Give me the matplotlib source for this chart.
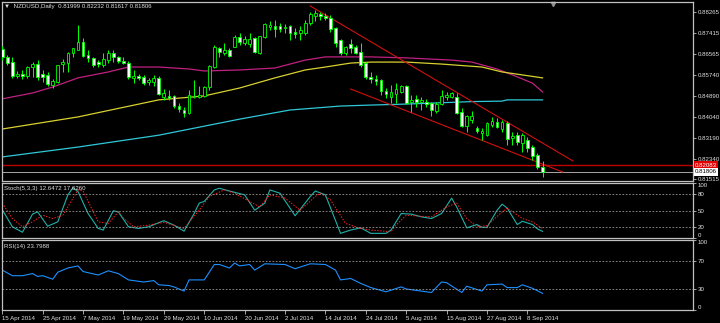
import matplotlib
matplotlib.use("Agg")
import matplotlib.pyplot as plt
import matplotlib.transforms as mtransforms
from matplotlib.patches import Rectangle

plt.rcParams["font.family"] = ["Liberation Sans", "DejaVu Sans"]

# ---- data ----
opens = [0.8678, 0.8646, 0.8625, 0.8569, 0.8577, 0.8569, 0.8605, 0.8617, 0.8577, 0.8573,
         0.8532, 0.8544, 0.8617, 0.8621, 0.8662, 0.8674, 0.8706, 0.8654, 0.8642, 0.8625,
         0.8613, 0.8633, 0.8662, 0.8646, 0.8629, 0.8621, 0.8561, 0.8569, 0.8565, 0.8544,
         0.8544, 0.8561, 0.8484, 0.8488, 0.8488, 0.8447, 0.8431, 0.8419, 0.8484, 0.8484,
         0.8488, 0.8524, 0.8605, 0.8682, 0.8662, 0.8674, 0.8686, 0.8727, 0.8702, 0.8698,
         0.8722, 0.8662, 0.8727, 0.8767, 0.8771, 0.8771, 0.8763, 0.8771, 0.8747, 0.8743,
         0.8743, 0.8783, 0.8812, 0.8820, 0.8812, 0.8803, 0.8763, 0.8714, 0.8662, 0.8698,
         0.8686, 0.8666, 0.8621, 0.8565, 0.8556, 0.8552, 0.8508, 0.8484, 0.8496, 0.8504,
         0.8528, 0.8463, 0.8476, 0.8463, 0.8463, 0.8459, 0.8427, 0.8455, 0.8484, 0.8484,
         0.8484, 0.8423, 0.8366, 0.8390, 0.8358, 0.8338, 0.8329, 0.8370, 0.8382, 0.8354,
         0.8378, 0.8317, 0.8329, 0.8297, 0.8309, 0.8281, 0.8248, 0.81999]
highs = [0.8690, 0.8654, 0.8646, 0.8589, 0.8593, 0.8609, 0.8625, 0.8633, 0.8593, 0.8585,
         0.8556, 0.8613, 0.8638, 0.8666, 0.8682, 0.8775, 0.8722, 0.8674, 0.8646, 0.8633,
         0.8662, 0.8674, 0.8674, 0.8650, 0.8646, 0.8629, 0.8593, 0.8577, 0.8573, 0.8561,
         0.8573, 0.8569, 0.8516, 0.8512, 0.8492, 0.8459, 0.8443, 0.8512, 0.8552, 0.8528,
         0.8528, 0.8613, 0.8694, 0.8686, 0.8702, 0.8682, 0.8735, 0.8743, 0.8731, 0.8743,
         0.8727, 0.8731, 0.8783, 0.8791, 0.8795, 0.8783, 0.8779, 0.8775, 0.8763, 0.8771,
         0.8795, 0.8828, 0.8836, 0.8828, 0.8824, 0.8816, 0.8767, 0.8718, 0.8690, 0.8718,
         0.8694, 0.8702, 0.8625, 0.8585, 0.8573, 0.8556, 0.8520, 0.8532, 0.8540, 0.8532,
         0.8532, 0.8492, 0.8492, 0.8484, 0.8476, 0.8463, 0.8463, 0.8512, 0.8504, 0.8504,
         0.8500, 0.8439, 0.8411, 0.8427, 0.8366, 0.8358, 0.8382, 0.8403, 0.8398, 0.8390,
         0.8386, 0.8342, 0.8342, 0.8338, 0.8321, 0.8289, 0.8256, 0.82232]
lows = [0.8633, 0.8613, 0.8561, 0.8561, 0.8556, 0.8561, 0.8565, 0.8552, 0.8544, 0.8528,
        0.8520, 0.8540, 0.8585, 0.8585, 0.8646, 0.8674, 0.8646, 0.8625, 0.8605, 0.8605,
        0.8605, 0.8621, 0.8625, 0.8621, 0.8617, 0.8556, 0.8540, 0.8552, 0.8532, 0.8532,
        0.8528, 0.8492, 0.8472, 0.8472, 0.8439, 0.8423, 0.8403, 0.8415, 0.8480, 0.8480,
        0.8484, 0.8512, 0.8601, 0.8646, 0.8654, 0.8646, 0.8686, 0.8694, 0.8694, 0.8686,
        0.8662, 0.8658, 0.8722, 0.8755, 0.8727, 0.8747, 0.8743, 0.8714, 0.8722, 0.8714,
        0.8735, 0.8775, 0.8791, 0.8795, 0.8795, 0.8747, 0.8686, 0.8654, 0.8654, 0.8662,
        0.8658, 0.8605, 0.8556, 0.8540, 0.8532, 0.8492, 0.8480, 0.8459, 0.8459, 0.8500,
        0.8455, 0.8423, 0.8443, 0.8431, 0.8443, 0.8407, 0.8419, 0.8451, 0.8472, 0.8480,
        0.8415, 0.8362, 0.8342, 0.8378, 0.8338, 0.8309, 0.8325, 0.8362, 0.8358, 0.8342,
        0.8289, 0.8289, 0.8289, 0.8260, 0.8260, 0.8228, 0.8191, 0.81617]
closes = [0.8646, 0.8621, 0.8569, 0.8577, 0.8569, 0.8605, 0.8617, 0.8565, 0.8565, 0.8536,
          0.8548, 0.8613, 0.8625, 0.8662, 0.8682, 0.8706, 0.8650, 0.8642, 0.8613, 0.8617,
          0.8638, 0.8662, 0.8646, 0.8629, 0.8621, 0.8565, 0.8569, 0.8561, 0.8540, 0.8552,
          0.8561, 0.8496, 0.8500, 0.8480, 0.8447, 0.8435, 0.8419, 0.8492, 0.8488, 0.8492,
          0.8524, 0.8609, 0.8686, 0.8666, 0.8674, 0.8650, 0.8727, 0.8706, 0.8718, 0.8718,
          0.8666, 0.8731, 0.8779, 0.8775, 0.8759, 0.8759, 0.8767, 0.8743, 0.8739, 0.8755,
          0.8783, 0.8820, 0.8824, 0.8812, 0.8803, 0.8759, 0.8702, 0.8662, 0.8686, 0.8682,
          0.8662, 0.8613, 0.8565, 0.8556, 0.8548, 0.8508, 0.8496, 0.8504, 0.8516, 0.8528,
          0.8459, 0.8472, 0.8463, 0.8472, 0.8455, 0.8431, 0.8455, 0.8488, 0.8492, 0.8500,
          0.8419, 0.8366, 0.8407, 0.8407, 0.8346, 0.8346, 0.8378, 0.8386, 0.8362, 0.8382,
          0.8313, 0.8325, 0.8301, 0.8329, 0.8277, 0.8244, 0.8200, 0.81806]

# moving averages, sampled at bar indices
ma_pink_bars = [0, 6, 10, 15, 21, 25, 31, 37, 40, 47, 54, 60, 64, 73, 80, 89, 93, 98, 102, 105, 107]
ma_pink = [0.8476, 0.8500, 0.8524, 0.8561, 0.8585, 0.8605, 0.8605, 0.8597, 0.8589, 0.8593, 0.8601,
           0.8633, 0.8646, 0.8646, 0.8642, 0.8633, 0.8625, 0.8597, 0.8565, 0.8540, 0.8504]
ma_yellow_bars = [0, 15, 31, 40, 47, 54, 60, 64, 69, 73, 80, 87, 95, 99, 107]
ma_yellow = [0.8354, 0.8403, 0.8472, 0.8488, 0.8520, 0.8561, 0.8593, 0.8605, 0.8621, 0.8625,
             0.8625, 0.8617, 0.8605, 0.8585, 0.8561]
ma_cyan_bars = [0, 15, 31, 47, 57, 67, 73, 80, 93, 99, 100, 107]
ma_cyan = [0.8241, 0.8281, 0.8329, 0.8394, 0.8431, 0.8447, 0.8451, 0.8455, 0.8465, 0.8467,
           0.8472, 0.8472]

# trend channel (bar index, price)
chan_upper_bars = [61, 113]
chan_upper = [0.8852, 0.8225]
chan_lower_bars = [69, 111]
chan_lower = [0.8516, 0.8180]

level_price = 0.82083
bid_price = 0.81806

price_ticks = [0.88265, 0.87415, 0.86565, 0.85740, 0.84890, 0.84040, 0.83190, 0.82340, 0.81515]

# stochastic (5,3,3)
k_bars = [0, 2, 4, 6, 7, 9, 11, 13, 14, 15, 17, 19, 20, 22, 23, 25, 27, 29, 32, 34,
          36, 38, 39, 40, 42, 43, 45, 48, 50, 52, 53, 55, 58, 61, 62, 64, 67, 69, 71, 73,
          76, 77, 79, 81, 83, 85, 87, 89, 90, 92, 94, 95, 96, 98, 99, 100, 102, 103, 105, 106, 107]
k_vals = [52, 21, 11, 44, 48, 22, 30, 79, 92, 85, 45, 18, 15, 50, 48, 21, 18, 21, 32, 24,
          13, 45, 64, 67, 88, 91, 86, 79, 51, 64, 88, 82, 41, 76, 86, 79, 9, 15, 19, 9,
          9, 15, 45, 44, 39, 36, 45, 73, 57, 19, 25, 20, 20, 51, 62, 55, 25, 31, 25, 17, 12.65]
d_bars = [0, 2, 4, 6, 8, 10, 12, 15, 16, 19, 21, 23, 24, 26, 29, 32, 36, 39, 41, 44,
          46, 49, 51, 53, 56, 59, 62, 63, 65, 68, 71, 73, 77, 78, 80, 83, 85, 88, 90, 92,
          94, 96, 99, 100, 103, 105, 107]
d_vals = [64, 36, 21, 30, 42, 36, 42, 88, 86, 30, 27, 48, 37, 21, 24, 29, 18, 51, 76, 88,
          82, 67, 57, 79, 73, 51, 76, 82, 70, 27, 18, 15, 12, 24, 42, 40, 39, 57, 64, 36,
          21, 23, 48, 55, 36, 30, 17.63]

# RSI(14)
rsi_bars = [0, 2, 4, 6, 7, 8, 10, 11, 13, 15, 16, 19, 21, 23, 25, 28, 30, 31, 33, 34,
            36, 37, 40, 42, 43, 45, 46, 47, 49, 50, 52, 56, 58, 61, 64, 66, 67, 69, 71, 73,
            76, 79, 80, 85, 87, 88, 91, 92, 95, 96, 99, 100, 102, 103, 105, 107]
rsi_vals = [57, 49, 49, 52, 48, 49, 44, 54, 60, 63, 55, 50, 56, 52, 43, 40, 42, 36, 35, 33,
            27, 43, 43, 65, 65, 60, 67, 63, 65, 57, 66, 65, 59, 66, 65, 57, 43, 45, 38, 32,
            26, 33, 30, 25, 40, 39, 25, 34, 27, 36, 37, 32, 32, 36, 31, 23.80]

date_ticks = [0, 8, 16, 24, 32, 40, 48, 56, 64, 72, 80, 88, 96, 104]
date_labels = ["15 Apr 2014", "25 Apr 2014", "7 May 2014", "19 May 2014", "29 May 2014",
               "10 Jun 2014", "20 Jun 2014", "2 Jul 2014", "14 Jul 2014", "24 Jul 2014",
               "5 Aug 2014", "15 Aug 2014", "27 Aug 2014", "8 Sep 2014"]

# ---- style ----
BG = "black"
FG = "#e0e0e0"
BORDER = "#c0c0c0"
LEVEL = "#9a9a9a"
CANDLE = "#00ff00"
FS = 4.4

W, H = 720, 323


def box(top, bottom, left=2, right=693):
    return [left / W, 1 - bottom / H, (right - left) / W, (bottom - top) / H]


fig = plt.figure(figsize=(W / 100, H / 100), dpi=100, facecolor=BG)
ax = fig.add_axes(box(2, 181))
ax_st = fig.add_axes(box(183.3, 238.3), sharex=ax)
ax_rsi = fig.add_axes(box(240, 310), sharex=ax)

for a in (ax, ax_st, ax_rsi):
    a.set_facecolor(BG)
    for s in a.spines.values():
        s.set_color(BORDER)
        s.set_linewidth(0.9)
    a.yaxis.tick_right()
    a.tick_params(axis="y", colors=BORDER, labelcolor=FG, labelsize=FS,
                  length=2, width=0.6, pad=1.5)
    a.tick_params(axis="x", bottom=False, labelbottom=False)

# ---- main price panel ----
for i, (o, h, l, c) in enumerate(zip(opens, highs, lows, closes)):
    ax.vlines(i, l, h, color=CANDLE, lw=0.75, zorder=3)
    face = "white" if c < o else "black"
    ax.add_patch(Rectangle((i - 0.27, min(o, c)), 0.54, max(abs(c - o), 0.00008),
                           facecolor=face, edgecolor=CANDLE, lw=0.6, zorder=4))

ax.plot(ma_pink_bars, ma_pink, color="#c02080", lw=0.9, zorder=2)
ax.plot(ma_yellow_bars, ma_yellow, color="#d8d030", lw=0.9, zorder=2)
ax.plot(ma_cyan_bars, ma_cyan, color="#30c8d8", lw=0.9, zorder=2)
ax.plot(chan_upper_bars, chan_upper, color="#d01010", lw=0.8, zorder=2)
ax.plot(chan_lower_bars, chan_lower, color="#d01010", lw=0.8, zorder=2)
ax.axhline(level_price, color="#c00000", lw=1.0, zorder=1)
ax.axhline(bid_price, color="#a8a8a8", lw=0.7, zorder=1)

ax.set_xlim(-0.05, 136.8)
ax.set_ylim(0.81436, 0.88682)
ax.set_yticks(price_ticks)
ax.set_yticklabels([f"{p:.5f}" for p in price_ticks])

trans = mtransforms.blended_transform_factory(ax.transAxes, ax.transData)
ax.text(1.003, level_price, f"{level_price:.5f}", transform=trans, fontsize=FS,
        color="white", va="center", ha="left",
        bbox=dict(facecolor="#e00000", edgecolor="none", pad=0.9))
ax.text(1.003, bid_price, f"{bid_price:.5f}", transform=trans, fontsize=FS,
        color="black", va="center", ha="left",
        bbox=dict(facecolor="white", edgecolor="none", pad=0.9))

ax.text(0.003, 0.975, "\u25bc  NZDUSD,Daily  0.81999 0.82232 0.81617 0.81806",
        transform=ax.transAxes, fontsize=FS, color=FG, va="center", ha="left")
top_trans = mtransforms.blended_transform_factory(ax.transData, ax.transAxes)
ax.plot([len(closes) + 1.1], [0.99], marker="v", ms=3, color="#909090",
        transform=top_trans, clip_on=False)

# ---- stochastic panel ----
ax_st.plot(k_bars, k_vals, color="#20b2aa", lw=0.8)
ax_st.plot(d_bars, d_vals, color="#ff2020", lw=0.7, ls=(0, (1.5, 1.5)))
for lv in (80, 50, 20):
    ax_st.axhline(lv, color=LEVEL, lw=0.6, ls=(0, (2, 2)))
ax_st.set_ylim(0, 100)
ax_st.set_yticks([100, 80, 50, 20, 0])
ax_st.set_yticklabels(["100", "80", "50", "20", "0"])
ax_st.text(0.003, 0.91, "Stoch(5,3,3) 12.6472 17.6260", transform=ax_st.transAxes,
           fontsize=FS, color=FG, va="center", ha="left")

# ---- RSI panel ----
ax_rsi.plot(rsi_bars, rsi_vals, color="#1e90ff", lw=0.8)
for lv in (70, 30):
    ax_rsi.axhline(lv, color=LEVEL, lw=0.6, ls=(0, (2, 2)))
ax_rsi.set_ylim(0, 100)
ax_rsi.set_yticks([100, 70, 30, 0])
ax_rsi.set_yticklabels(["100", "70", "30", "0"])
ax_rsi.text(0.003, 0.91, "RSI(14) 23.7988", transform=ax_rsi.transAxes,
            fontsize=FS, color=FG, va="center", ha="left")

for a in (ax_st, ax_rsi):
    labels = a.get_yticklabels()
    labels[0].set_va("top")
    labels[-1].set_va("bottom")

ax_rsi.set_xticks(date_ticks)
ax_rsi.set_xticklabels(date_labels, ha="left")
ax_rsi.tick_params(axis="x", bottom=True, labelbottom=True, colors=BORDER,
                   labelcolor=FG, labelsize=FS, length=3, width=0.6, pad=1.5)

fig.savefig("out.png", dpi=100, facecolor=BG)
